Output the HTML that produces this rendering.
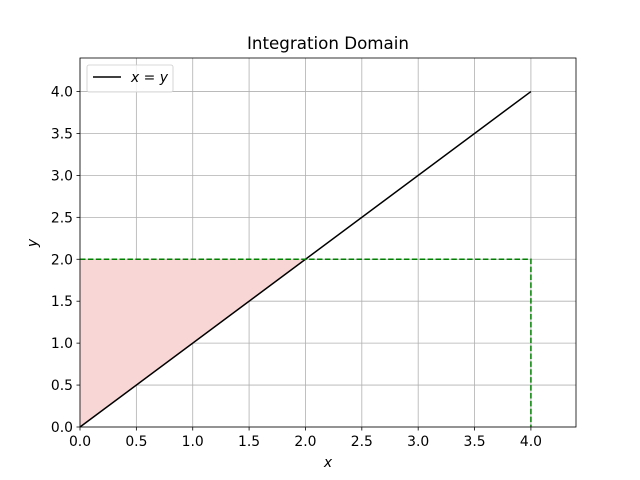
<!DOCTYPE html>
<html><head><meta charset="utf-8"><style>body{margin:0;background:#fff}svg{display:block;font-family:"DejaVu Sans","Liberation Sans",sans-serif}</style></head>
<body>
<svg id="chart" width="640" height="480"></svg>
<script>
const xTicks=[0,0.5,1,1.5,2,2.5,3,3.5,4];
const yTicks=[0,0.5,1,1.5,2,2.5,3,3.5,4];
const lineX=[0,4];
const lineY=[0,4];
const regionX=[0,2,0];
const regionY=[0,2,2];
const boundX=[0,4,4];
const boundY=[2,2,0];
const L=80,R=576,T=58,B=427,xmax=4.4,ymax=4.4;
const sx=v=>L+v/xmax*(R-L), sy=v=>B-v/ymax*(B-T);
const s=document.getElementById('chart');const NS='http://www.w3.org/2000/svg';
function el(t,a,p){const e=document.createElementNS(NS,t);for(const k in a)e.setAttribute(k,a[k]);(p||s).appendChild(e);return e;}
xTicks.forEach(v=>{const g=el('line',{x1:sx(v),x2:sx(v),y1:T,y2:B,stroke:'#b0b0b0','stroke-width':0.8});


el('line',{x1:sx(v),x2:sx(v),y1:B,y2:B+3.5,stroke:'#000','stroke-width':0.8});
const t=el('text',{x:sx(v),y:B+19,'text-anchor':'middle','font-size':13.9});t.textContent=v.toFixed(1);

});
yTicks.forEach(v=>{const g=el('line',{x1:L,x2:R,y1:sy(v),y2:sy(v),stroke:'#b0b0b0','stroke-width':0.8});


el('line',{x1:L-3.5,x2:L,y1:sy(v),y2:sy(v),stroke:'#000','stroke-width':0.8});
const t=el('text',{x:L-7,y:sy(v)+5,'text-anchor':'end','font-size':13.9});t.textContent=v.toFixed(1);

});
const poly=el('polygon',{points:regionX.map((x,i)=>sx(x)+','+sy(regionY[i])).join(' '),fill:'#f9d6d6'});


const ln=el('polyline',{points:lineX.map((x,i)=>sx(x)+','+sy(lineY[i])).join(' '),fill:'none',stroke:'#000','stroke-width':1.5});


const bd=el('polyline',{points:boundX.map((x,i)=>sx(x)+','+sy(boundY[i])).join(' '),fill:'none',stroke:'#008000','stroke-width':1.5,'stroke-dasharray':'5.5,2.4'});


const fr=el('rect',{x:L,y:T,width:R-L,height:B-T,fill:'none',stroke:'#000','stroke-width':0.8});


</script>
<div style="position:absolute;left:0;top:0;width:640px;height:480px;pointer-events:none">
<svg width="640" height="480" style="font-family:'DejaVu Sans','Liberation Sans',sans-serif">
<text x="328" y="49" text-anchor="middle" font-size="16.7">Integration Domain</text>
<text x="328" y="467" text-anchor="middle" font-size="13.9" font-style="italic">x</text>
<text x="37" y="243" text-anchor="middle" font-size="13.9" font-style="italic" transform="rotate(-90 37 243)">y</text>
<g>
<rect x="87" y="65" width="86" height="27" rx="2" fill="#fff" fill-opacity="0.8" stroke="#ccc" stroke-width="0.8"/>
<line x1="93" y1="77" x2="121" y2="77" stroke="#000" stroke-width="1.5"/>
<text x="131" y="82" font-size="13.9" font-style="italic">x = y</text>
</g>
</svg></div>
</body></html>
